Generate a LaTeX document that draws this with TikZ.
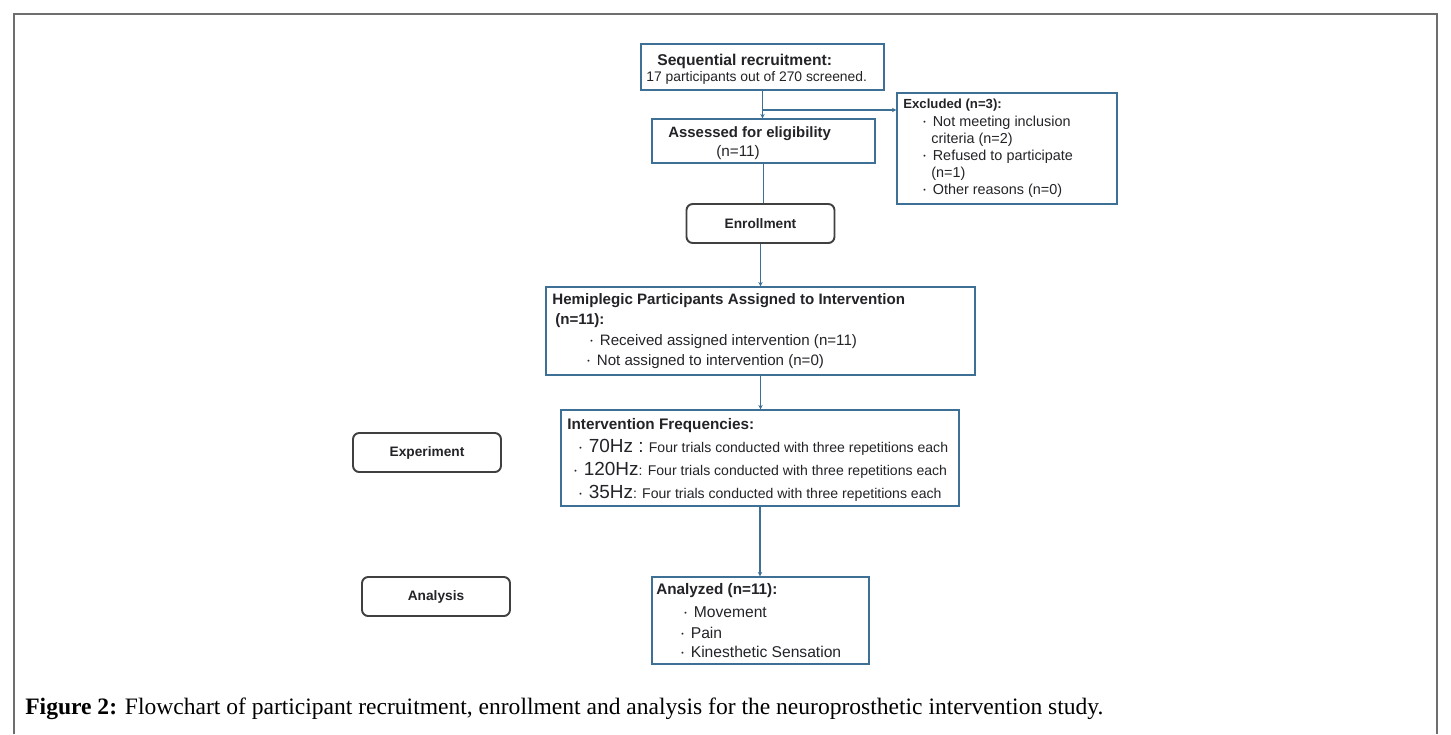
\documentclass[tikz,border=0pt]{standalone}
\usepackage{fontspec}
\setmainfont{Liberation Serif}
\newfontfamily\boxfont{Liberation Sans}
\usetikzlibrary{fit,arrows.meta}

\definecolor{boxblue}{RGB}{62,112,150}
\definecolor{framegray}{RGB}{110,110,110}
\definecolor{txtgray}{RGB}{35,35,40}

\newcommand{\dotitem}{\raisebox{0.25ex}{\fontsize{4}{4}\selectfont\textbullet}\hspace{4pt}}
\newcommand{\hz}[1]{{\fontsize{10.8}{12}\selectfont #1}}

\tikzset{
  box/.style={draw=boxblue, line width=0.8pt, inner sep=0pt},
  stagebox/.style={draw=black!75, line width=1.1pt, rounded corners=3.5pt, inner sep=0pt,
    minimum width=2.96cm, minimum height=0.78cm,
    text=txtgray, font=\boxfont\bfseries\fontsize{7.8}{9}\selectfont},
  ln/.style={anchor=west, inner sep=0pt, text=txtgray, font=\boxfont\fontsize{#1}{10}\selectfont},
  ln/.default=8,
  hd/.style={ln=#1, font=\boxfont\bfseries\fontsize{#1}{10}\selectfont},
  hd/.default=8,
  arr/.style={draw=boxblue, line width=0.6pt, -{Stealth[length=2.5pt,width=2.5pt]}},
  link/.style={draw=boxblue, line width=0.6pt}
}

\begin{document}
\begin{tikzpicture}[x=0.02cm,y=-0.02cm]
\useasboundingbox (0,0) rectangle (1451,734);
\draw[framegray, line width=0.6pt] (14,734) -- (14,14) -- (1437,14) -- (1437,734);

% boxes
\node[box, fit={(641,44) (884,90)}] (seq) {};
\node[box, fit={(652,119) (875,163)}] (ass) {};
\node[box, fit={(897,93) (1117,204)}] (exc) {};
\node[stagebox] (enr) at (760.5,223.5) {Enrollment};
\node[box, fit={(546,287) (975,375)}] (hemi) {};
\node[box, fit={(561,410) (959,506)}] (freq) {};
\node[stagebox] (expt) at (427,452.5) {Experiment};
\node[box, fit={(652,577) (869,664)}] (ana) {};
\node[stagebox] (anl) at (436,596.5) {Analysis};

% texts
\node[hd=8.9] (seq1) at (657,61) {Sequential recruitment:};
\node[ln=7.9] (seq2) at (646,78) {17 participants out of 270 screened.};
\node[hd=8.5] (ass1) at (668,134) {Assessed for eligibility};
\node[ln=8.7] (ass2) at (716,153) {(n=11)};

\node[hd=7.5] (exc1) at (903,105) {Excluded (n=3):};
\node[ln=8.2] (exc2) at (923,123) {\dotitem Not meeting inclusion};
\node[ln=8.2] (exc3) at (931,140) {criteria (n=2)};
\node[ln=8.2] (exc4) at (923,157) {\dotitem Refused to participate};
\node[ln=8.2] (exc5) at (931,174) {(n=1)};
\node[ln=8.2] (exc6) at (923,191) {\dotitem Other reasons (n=0)};

\node[hd=8.6] (hemi1) at (552,301) {Hemiplegic Participants Assigned to Intervention};
\node[hd=8.6] (hemi2) at (555,321) {(n=11):};
\node[ln=8.6] (hemi3) at (590,342) {\dotitem Received assigned intervention (n=11)};
\node[ln=8.6] (hemi4) at (587,362) {\dotitem Not assigned to intervention (n=0)};

\node[hd=8.7] (freq1) at (567,426) {Intervention Frequencies:};
\node[ln=8] (freq2) at (579,447) {\dotitem\hz{70Hz :} Four trials conducted with three repetitions each};
\node[ln=8] (freq3) at (574,470) {\dotitem\hz{120Hz}: Four trials conducted with three repetitions each};
\node[ln=8] (freq4) at (579,493) {\dotitem\hz{35Hz}: Four trials conducted with three repetitions each};

\node[hd=8.7] (ana1) at (656,591) {Analyzed (n=11):};
\node[ln=8.9] (ana2) at (684,612) {\dotitem Movement};
\node[ln=8.9] (ana3) at (681,633) {\dotitem Pain};
\node[ln=8.9] (ana4) at (681,652) {\dotitem Kinesthetic Sensation};

% connectors
\coordinate (br) at (763,110);
\draw[arr] (seq.south) -- (seq.south |- ass.north);
\draw[arr] (br) -- (br -| exc.west);
\draw[link] (ass.south) -- (ass.south |- enr.north);
\draw[arr] (enr.south) -- (enr.south |- hemi.north);
\draw[arr] (hemi.south) -- (hemi.south |- freq.north);
\draw[arr] (freq.south) -- (freq.south |- ana.north);

% caption
\node[anchor=west, inner sep=0pt, font=\fontsize{13.4}{15}\selectfont] (cap) at (25,709)
  {\textbf{Figure 2:} Flowchart of participant recruitment, enrollment and analysis for the neuroprosthetic intervention study.};
\end{tikzpicture}
\end{document}
